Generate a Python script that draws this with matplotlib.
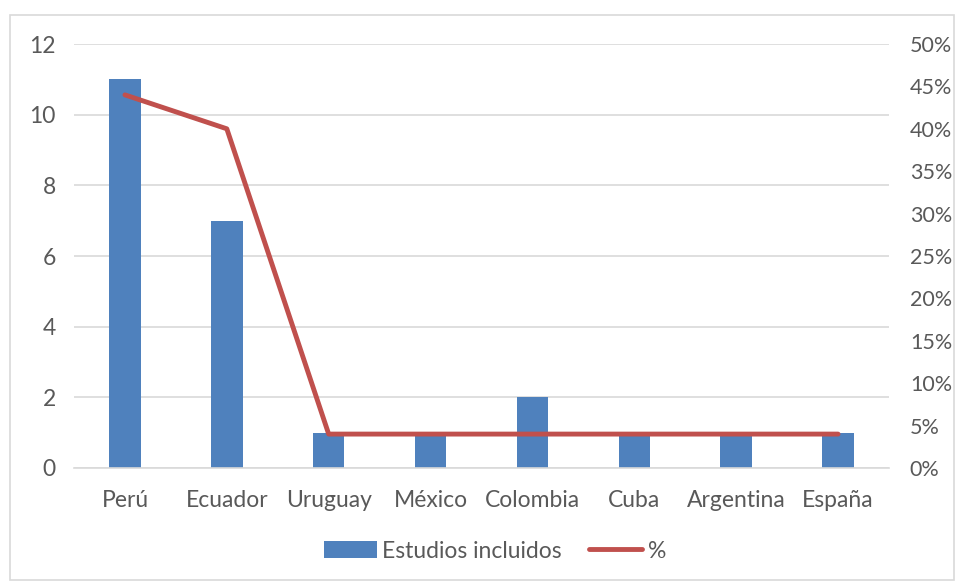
import matplotlib
matplotlib.use("Agg")
import matplotlib.pyplot as plt
from matplotlib.patches import Rectangle
from matplotlib.ticker import FuncFormatter

categories = ["Perú", "Ecuador", "Uruguay", "México", "Colombia", "Cuba", "Argentina", "España"]
estudios = [11, 7, 1, 1, 2, 1, 1, 1]
porcentaje = [0.44, 0.40, 0.04, 0.04, 0.04, 0.04, 0.04, 0.04]
left_ticks = [0, 2, 4, 6, 8, 10, 12]
right_ticks = [0, 0.05, 0.10, 0.15, 0.20, 0.25, 0.30, 0.35, 0.40, 0.45, 0.50]

plt.rcParams['font.family'] = ['Lato', 'DejaVu Sans']
txt = '#595959'
fs = 16.5
fig = plt.figure(figsize=(9.55, 5.82), dpi=100)
fig.patches.append(Rectangle((10/955, 0.003), 0.999 - 10/955, 1 - 15/582 - 0.003,
                             transform=fig.transFigure, fill=False,
                             edgecolor='#D9D9D9', linewidth=1.2))

ax = fig.add_axes([74/955, 1 - 468/582, (889 - 74)/955, (468 - 44)/582])
x = list(range(len(categories)))
ax.bar(x, estudios, width=0.31, color='#4F81BD', label='Estudios incluidos', zorder=2)
ax.set_xlim(-0.5, len(categories) - 0.5)
ax.set_ylim(0, 12)
ax.set_yticks(left_ticks)
ax.yaxis.grid(True, color='#D9D9D9', linewidth=1.2, zorder=0)
ax.set_axisbelow(True)
for s in ax.spines.values():
    s.set_visible(False)
ax.spines['bottom'].set_visible(True)
ax.spines['bottom'].set_color('#D9D9D9')
ax.spines['bottom'].set_linewidth(1.2)
ax.set_xticks(x)
ax.set_xticklabels(categories)
ax.tick_params(axis='both', length=0, labelsize=fs, colors=txt)
ax.tick_params(axis='x', pad=16)
ax.tick_params(axis='y', pad=13)

ax2 = ax.twinx()
ax2.plot(x, porcentaje, color='#C0504D', linewidth=3.5, solid_capstyle='round',
         label='%', zorder=3)
ax2.set_ylim(0, 0.5)
ax2.set_yticks(right_ticks)
ax2.yaxis.set_major_formatter(FuncFormatter(lambda v, p: f"{round(v*100)}%"))
ax2.tick_params(axis='y', length=0, labelsize=15.5, colors=txt, pad=15)
for s in ax2.spines.values():
    s.set_visible(False)

h1, l1 = ax.get_legend_handles_labels()
h2, l2 = ax2.get_legend_handles_labels()
fig.legend(h1 + h2, l1 + l2, loc='center', bbox_to_anchor=(495/955, 1 - 551/582),
           ncol=2, frameon=False, fontsize=fs, labelcolor=txt,
           handlelength=2.3, handleheight=0.7, handletextpad=0.25, columnspacing=1.2)

fig.savefig('out.png', dpi=100)
